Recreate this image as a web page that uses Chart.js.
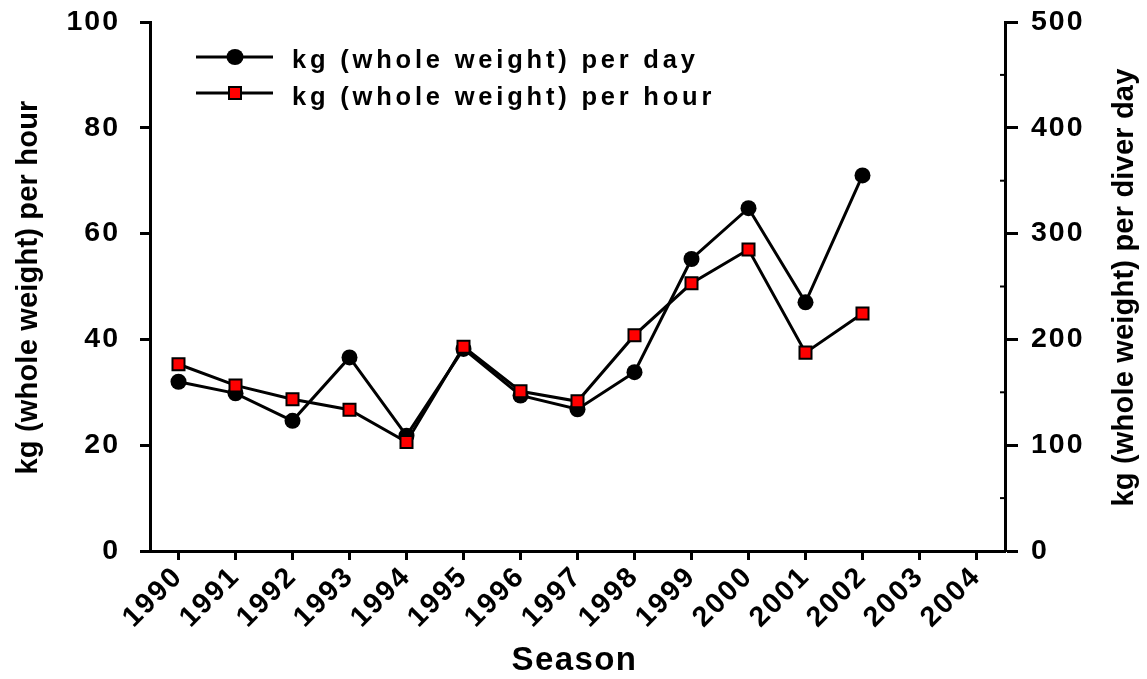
<!DOCTYPE html>
<html>
<head>
<meta charset="utf-8">
<script src="https://cdn.jsdelivr.net/npm/chart.js@4.4.0/dist/chart.umd.min.js"></script>
<style>
  html, body { margin: 0; padding: 0; background: #fff; }
  #wrap { width: 1147px; height: 679px; position: relative; }
</style>
</head>
<body>
<div id="wrap"><canvas id="cpue"></canvas></div>
<script>
const seasons = ['1990', '1991', '1992', '1993', '1994', '1995', '1996', '1997',
                 '1998', '1999', '2000', '2001', '2002', '2003', '2004'];
// kg (whole weight) per diver day -> right axis
const perDay  = [160, 149, 123, 183, 109, 191, 147, 134, 169, 276, 324, 235, 355, null, null];
// kg (whole weight) per hour -> left axis
const perHour = [35.3, 31.3, 28.7, 26.7, 20.6, 38.6, 30.2, 28.3, 40.8, 50.6, 57.0, 37.5, 44.9, null, null];
const dayMinorTicks = [50, 150, 250, 350, 450];

const FONT = '"Liberation Sans", Arial, sans-serif';

// ── Légende, titres d'axes et graduations mineures ─────────────
const decor = {
  id: 'decor',
  beforeDraw(chart) {
    chart.ctx.letterSpacing = '2px';
  },
  afterDraw(chart) {
    const { ctx, chartArea: a, scales } = chart;
    ctx.save();
    ctx.strokeStyle = '#000';
    ctx.fillStyle = '#000';

    // minor ticks, right axis (pointing inward)
    ctx.lineWidth = 2;
    dayMinorTicks.forEach(v => {
      const y = scales.yDay.getPixelForValue(v);
      ctx.beginPath();
      ctx.moveTo(a.right - 5, y);
      ctx.lineTo(a.right, y);
      ctx.stroke();
    });

    // legend
    const rows = [
      { label: 'kg (whole weight) per day',  style: 'circle', y: a.top + 35, base: a.top + 46 },
      { label: 'kg (whole weight) per hour', style: 'rect',   y: a.top + 71, base: a.top + 83 },
    ];
    rows.forEach(r => {
      ctx.lineWidth = 3;
      ctx.strokeStyle = '#000';
      ctx.beginPath();
      ctx.moveTo(a.left + 46, r.y);
      ctx.lineTo(a.left + 123, r.y);
      ctx.stroke();
      const mx = a.left + 85;
      if (r.style === 'circle') {
        ctx.fillStyle = '#000';
        ctx.beginPath();
        ctx.ellipse(mx, r.y, 8.5, 8, 0, 0, Math.PI * 2);
        ctx.fill();
      } else {
        ctx.fillStyle = '#ff0000';
        ctx.lineWidth = 2;
        ctx.fillRect(mx - 6, r.y - 6, 12, 12);
        ctx.strokeRect(mx - 6, r.y - 6, 12, 12);
      }
      ctx.fillStyle = '#000';
      ctx.font = 'bold 25.5px ' + FONT;
      ctx.letterSpacing = '3.8px';
      ctx.textAlign = 'left';
      ctx.textBaseline = 'alphabetic';
      ctx.fillText(r.label, a.left + 142, r.base);
    });

    // axis titles
    ctx.textAlign = 'center';
    ctx.textBaseline = 'middle';
    ctx.font = 'bold 29px ' + FONT;
    ctx.letterSpacing = '0.2px';
    const midY = (a.top + a.bottom) / 2 + 1;
    [[a.left - 121, 'kg (whole weight) per hour'], [a.right + 120, 'kg (whole weight) per diver day']]
      .forEach(([x, t]) => {
        ctx.save();
        ctx.translate(x, midY);
        ctx.rotate(-Math.PI / 2);
        ctx.fillText(t, 0, 0);
        ctx.restore();
      });

    ctx.font = 'bold 33px ' + FONT;
    ctx.letterSpacing = '1.4px';
    ctx.fillText('Season', (a.left + a.right) / 2 - 3, a.bottom + 110);
    ctx.restore();
  }
};

const tickFont = { family: FONT, size: 28.5, weight: 'bold' };
const axisGrid = len => ({ drawOnChartArea: false, drawTicks: true, tickLength: len, tickColor: '#000', tickWidth: 3 });
const axisBorder = { display: true, color: '#000', width: 3 };

// tailles fixes des axes, sans marge automatique
const fixSize = (prop, size) => s => {
  s[prop] = size;
  s.paddingTop = s.paddingBottom = s.paddingLeft = s.paddingRight = 0;
};

new Chart(document.getElementById('cpue'), {
  type: 'line',
  data: {
    labels: seasons,
    datasets: [
      {
        label: 'kg (whole weight) per hour',
        data: perHour,
        yAxisID: 'yHour',
        order: 0,
        borderColor: '#000',
        borderWidth: 3,
        pointStyle: 'rect',
        pointRadius: 8.5,
        pointBackgroundColor: '#ff0000',
        pointBorderColor: '#000',
        pointBorderWidth: 2,
        tension: 0,
      },
      {
        label: 'kg (whole weight) per day',
        data: perDay,
        yAxisID: 'yDay',
        order: 1,
        borderColor: '#000',
        borderWidth: 3,
        pointStyle: 'circle',
        pointRadius: 8,
        pointBackgroundColor: '#000',
        pointBorderColor: '#000',
        pointBorderWidth: 0,
        tension: 0,
      },
    ],
  },
  options: {
    responsive: true,
    maintainAspectRatio: false,
    animation: false,
    layout: { autoPadding: false, padding: { top: 22, left: 0, right: 0, bottom: 0 } },
    plugins: {
      legend: { display: false },
      tooltip: { enabled: false },
    },
    scales: {
      x: {
        type: 'category',
        offset: true,
        grid: axisGrid(9),
        border: axisBorder,
        ticks: { color: '#000', font: tickFont, minRotation: 45, maxRotation: 45, autoSkip: false, padding: 0 },
        afterFit: fixSize('height', 128),
      },
      yHour: {
        position: 'left',
        min: 0,
        max: 100,
        grid: axisGrid(10),
        border: axisBorder,
        ticks: { color: '#000', font: tickFont, stepSize: 20, padding: 20 },
        afterFit: fixSize('width', 150),
      },
      yDay: {
        position: 'right',
        min: 0,
        max: 500,
        grid: axisGrid(13),
        border: axisBorder,
        ticks: { color: '#000', font: tickFont, stepSize: 100, padding: 13 },
        afterFit: fixSize('width', 142),
      },
    },
  },
  plugins: [decor],
});
</script>
</body>
</html>
